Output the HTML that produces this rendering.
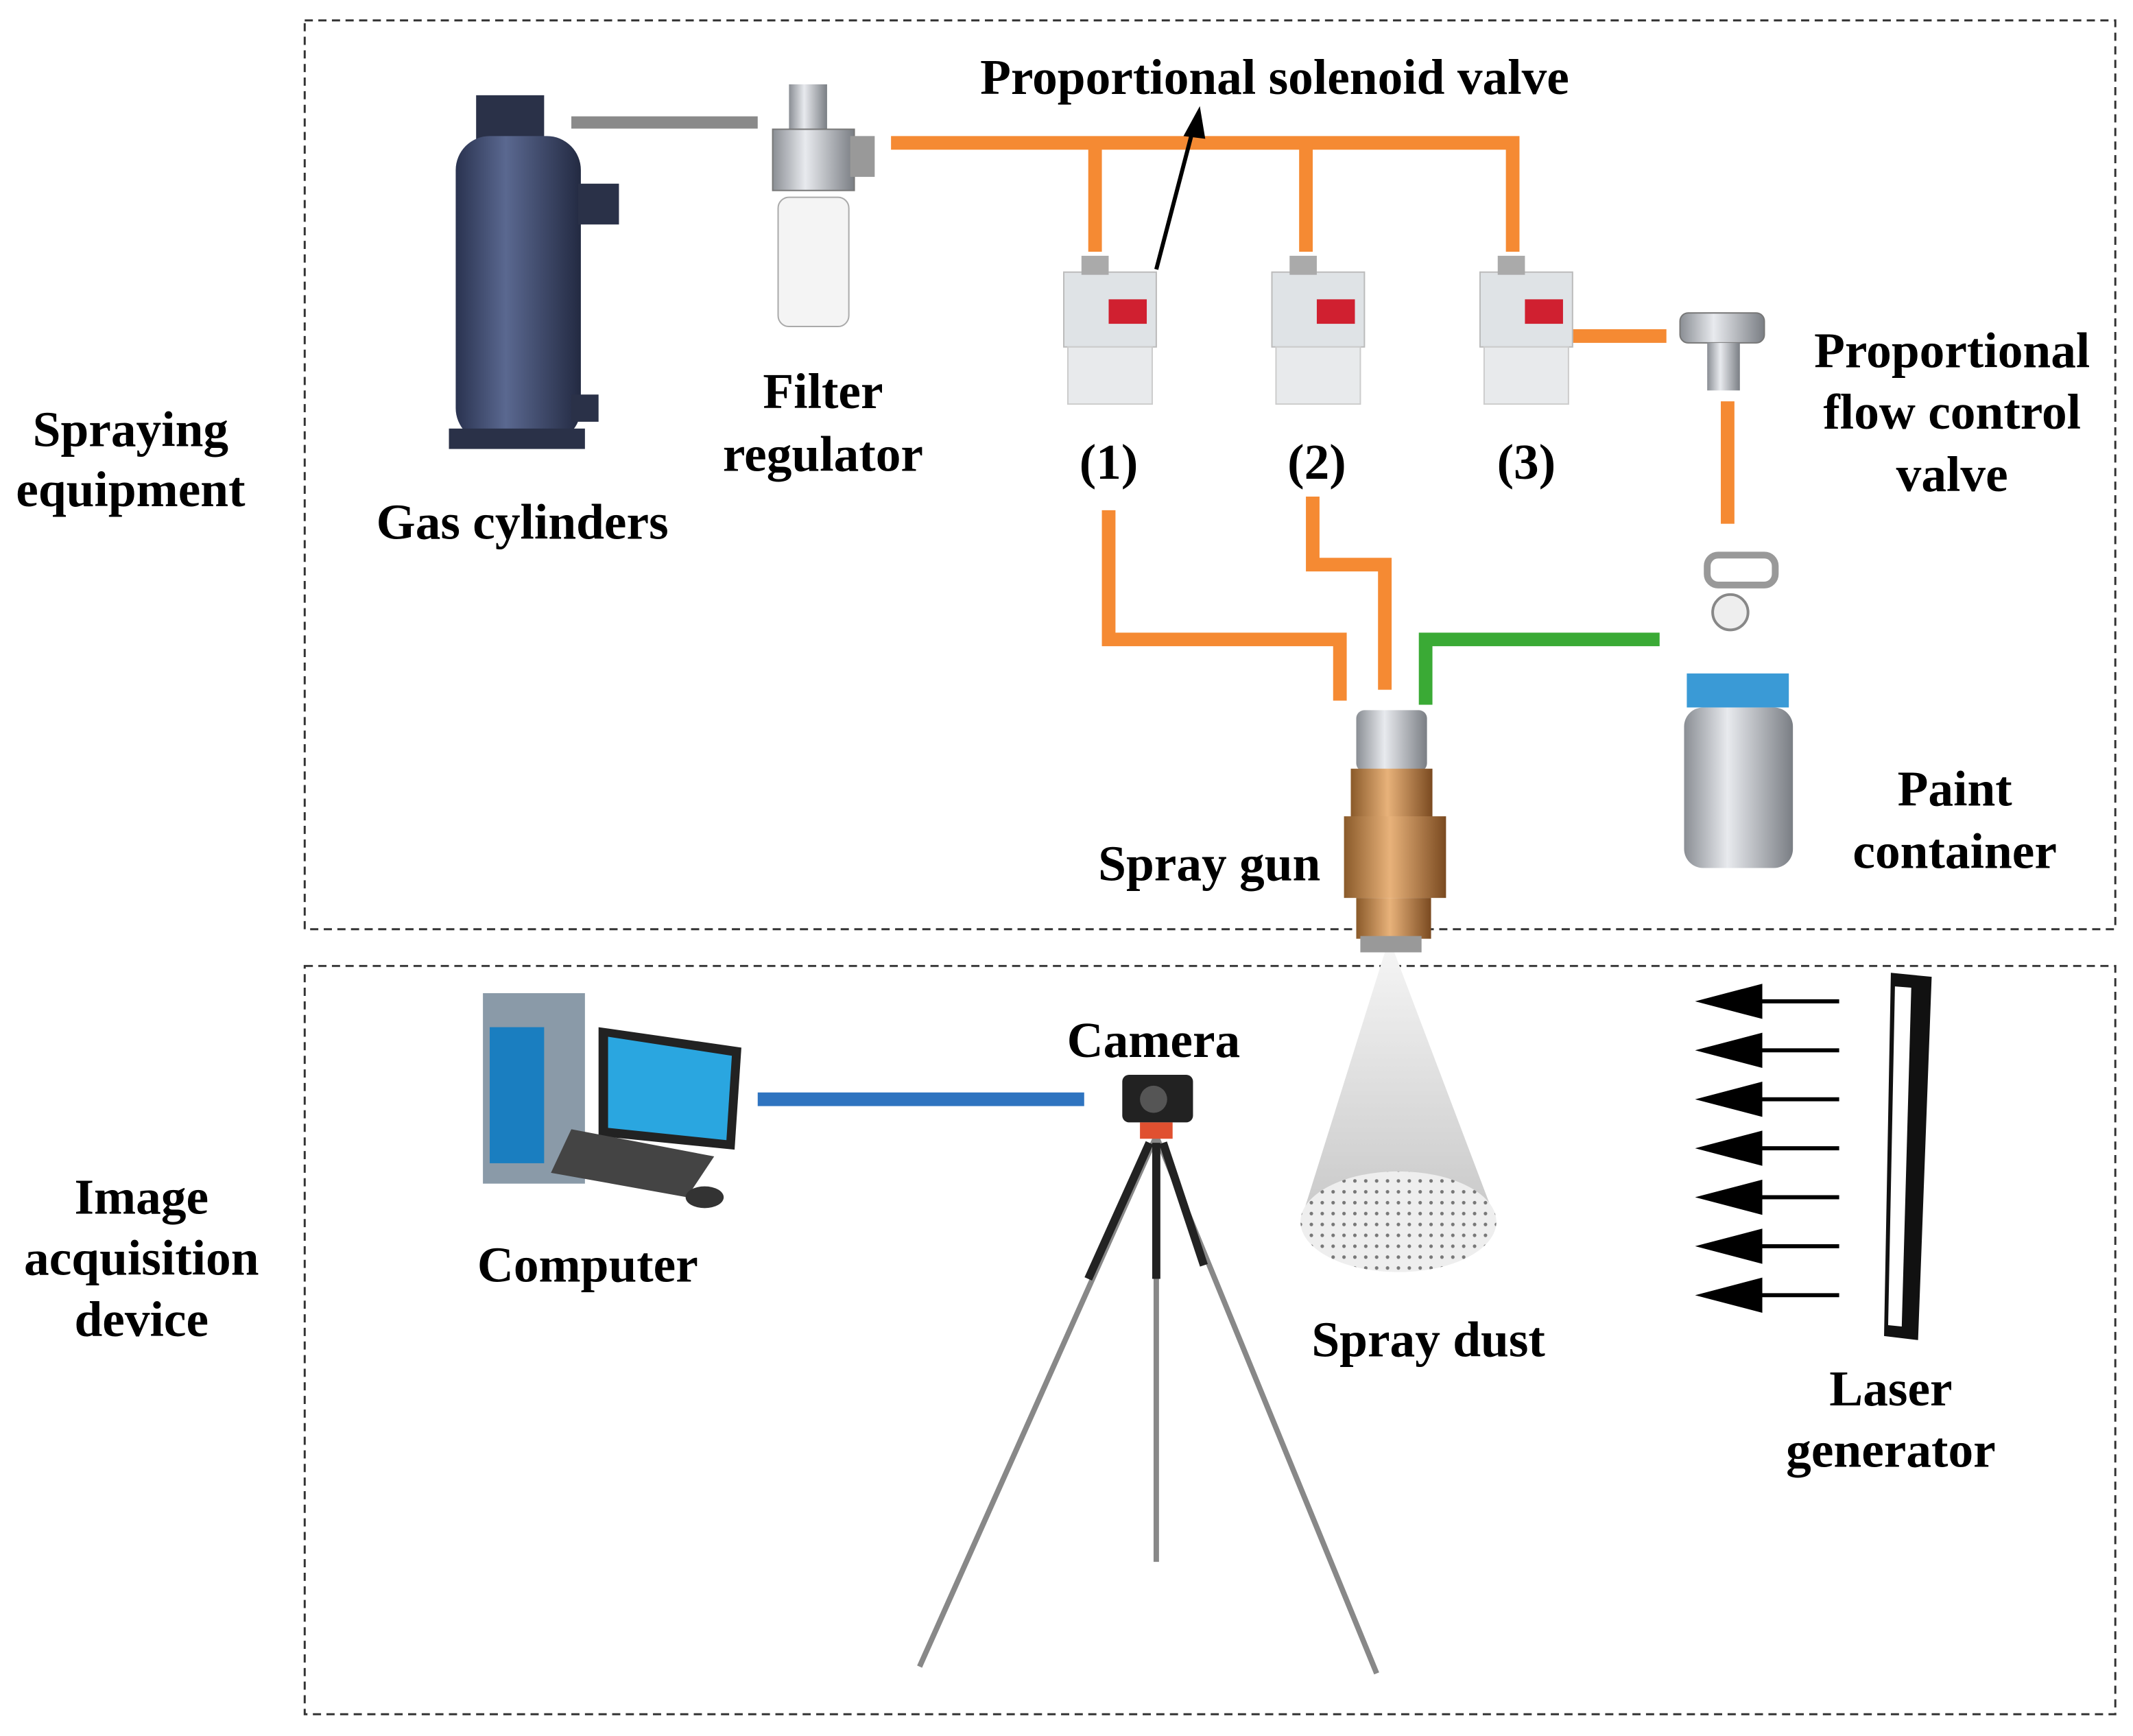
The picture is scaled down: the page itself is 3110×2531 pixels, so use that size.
<!DOCTYPE html>
<html><head><meta charset="utf-8"><style>
html,body{margin:0;padding:0;background:#fff;}
svg{display:block;}
text{font-family:"Liberation Serif",serif;font-weight:bold;font-size:37px;fill:#000;text-anchor:middle;}
</style></head><body>
<svg width="3110" height="2531" viewBox="0 0 1568 1276" preserveAspectRatio="none" xmlns="http://www.w3.org/2000/svg">
<defs>
<linearGradient id="cyl" x1="0" x2="1"><stop offset="0" stop-color="#2a3350"/><stop offset="0.4" stop-color="#5a6890"/><stop offset="1" stop-color="#232a42"/></linearGradient>
<linearGradient id="gold" x1="0" x2="1"><stop offset="0" stop-color="#8a5a2a"/><stop offset="0.45" stop-color="#e8b27a"/><stop offset="1" stop-color="#7a4a20"/></linearGradient>
<linearGradient id="silver" x1="0" x2="1"><stop offset="0" stop-color="#8a8e94"/><stop offset="0.4" stop-color="#e8eaee"/><stop offset="1" stop-color="#7a7e84"/></linearGradient>
<linearGradient id="cone" x1="0" y1="0" x2="0" y2="1"><stop offset="0" stop-color="#f4f4f4"/><stop offset="1" stop-color="#c8c8c8"/></linearGradient>
<pattern id="dots" width="8" height="8" patternUnits="userSpaceOnUse"><rect width="8" height="8" fill="#eee"/><circle cx="4" cy="4" r="1.3" fill="#777"/></pattern>
</defs>
<rect x="224" y="15" width="1331" height="668" fill="none" stroke="#333" stroke-width="1.5" stroke-dasharray="6,4"/>
<rect x="224" y="710" width="1331" height="550" fill="none" stroke="#333" stroke-width="1.5" stroke-dasharray="6,4"/>

<g fill="none" stroke-linejoin="miter" stroke-linecap="butt">
<line x1="420" y1="90" x2="557" y2="90" stroke="#8a8a8a" stroke-width="9"/>
<g stroke="#f58a33" stroke-width="10">
<polyline points="655,105 1112,105 1112,185"/>
<line x1="805" y1="105" x2="805" y2="185"/>
<line x1="960" y1="105" x2="960" y2="185"/>
<line x1="1155" y1="247" x2="1225" y2="247"/>
<line x1="1270" y1="295" x2="1270" y2="385"/>
<polyline points="815,375 815,470 985,470 985,515"/>
<polyline points="965,365 965,415 1018,415 1018,507"/>
</g>
<polyline points="1048,518 1048,470 1220,470" stroke="#3aaa35" stroke-width="10"/>
<line x1="557" y1="808" x2="797" y2="808" stroke="#2f74c0" stroke-width="10"/>
</g>

<rect x="350" y="70" width="50" height="35" fill="#2a3148"/>
<rect x="335" y="100" width="92" height="225" rx="25" fill="url(#cyl)"/>
<rect x="330" y="315" width="100" height="15" fill="#2a3148"/>
<rect x="425" y="135" width="30" height="30" fill="#2a3148"/>
<rect x="420" y="290" width="20" height="20" fill="#2a3148"/>

<rect x="580" y="62" width="28" height="40" fill="url(#silver)"/>
<rect x="568" y="95" width="60" height="45" fill="url(#silver)" stroke="#777"/>
<rect x="625" y="100" width="18" height="30" fill="#999"/>
<rect x="572" y="145" width="52" height="95" rx="8" fill="#f4f4f4" stroke="#aaa"/>

<g id="v">
<rect x="782" y="200" width="68" height="55" fill="#dfe3e6" stroke="#bbb"/>
<rect x="815" y="220" width="28" height="18" fill="#d02030"/>
<rect x="785" y="255" width="62" height="42" fill="#e8eaec" stroke="#ccc"/>
<rect x="795" y="188" width="20" height="14" fill="#aaa"/>
</g>
<use href="#v" x="153"/>
<use href="#v" x="306"/>

<rect x="1235" y="230" width="62" height="22" rx="6" fill="url(#silver)" stroke="#777"/>
<rect x="1255" y="252" width="24" height="35" fill="url(#silver)"/>

<rect x="1255" y="408" width="50" height="22" rx="8" fill="none" stroke="#999" stroke-width="5"/>
<circle cx="1272" cy="450" r="13" fill="#eee" stroke="#888" stroke-width="2"/>
<rect x="1240" y="495" width="75" height="25" fill="#3a9ad6"/>
<rect x="1238" y="520" width="80" height="118" rx="14" fill="url(#silver)"/>

<rect x="997" y="522" width="52" height="45" rx="6" fill="url(#silver)"/>
<rect x="993" y="565" width="60" height="55" fill="url(#gold)"/>
<rect x="988" y="600" width="75" height="60" fill="url(#gold)"/>
<rect x="997" y="660" width="55" height="30" fill="url(#gold)"/>
<rect x="1000" y="688" width="45" height="12" fill="#999"/>

<polygon points="1018,700 1025,700 1100,898 956,898" fill="url(#cone)"/>
<ellipse cx="1028" cy="898" rx="72" ry="37" fill="url(#dots)"/>

<line x1="850" y1="198" x2="877" y2="95" stroke="#000" stroke-width="3"/>
<polygon points="882,78 870,100 886,102" fill="#000"/>

<rect x="355" y="730" width="75" height="140" fill="#8a9aa8"/>
<rect x="360" y="755" width="40" height="100" fill="#1a7ec0"/>
<polygon points="440,755 545,770 540,845 440,835" fill="#222"/>
<polygon points="447,762 538,776 534,838 447,829" fill="#2aa6e0"/>
<polygon points="420,830 525,850 505,880 405,862" fill="#444"/>
<ellipse cx="518" cy="880" rx="14" ry="8" fill="#333"/>

<rect x="825" y="790" width="52" height="35" rx="5" fill="#222"/>
<circle cx="848" cy="808" r="10" fill="#555"/>
<g stroke="#888" stroke-width="4">
<line x1="850" y1="835" x2="676" y2="1225"/>
<line x1="850" y1="835" x2="850" y2="1148"/>
<line x1="850" y1="835" x2="1012" y2="1230"/>
</g>
<g stroke="#222" stroke-width="6">
<line x1="845" y1="840" x2="800" y2="940"/>
<line x1="850" y1="840" x2="850" y2="940"/>
<line x1="855" y1="840" x2="885" y2="930"/>
</g>
<rect x="838" y="825" width="24" height="12" fill="#e05030"/>

<g stroke="#000" stroke-width="3" fill="#000">
<line x1="1352" y1="736" x2="1280" y2="736"/><polygon points="1252,736 1294,725 1294,747"/>
<line x1="1352" y1="772" x2="1280" y2="772"/><polygon points="1252,772 1294,761 1294,783"/>
<line x1="1352" y1="808" x2="1280" y2="808"/><polygon points="1252,808 1294,797 1294,819"/>
<line x1="1352" y1="844" x2="1280" y2="844"/><polygon points="1252,844 1294,833 1294,855"/>
<line x1="1352" y1="880" x2="1280" y2="880"/><polygon points="1252,880 1294,869 1294,891"/>
<line x1="1352" y1="916" x2="1280" y2="916"/><polygon points="1252,916 1294,905 1294,927"/>
<line x1="1352" y1="952" x2="1280" y2="952"/><polygon points="1252,952 1294,941 1294,963"/>
</g>

<polygon points="1390,715 1420,718 1410,985 1385,982" fill="#111"/>
<polygon points="1393,725 1405,726 1398,975 1388,974" fill="#fff"/>

<text x="937" y="69">Proportional solenoid valve</text>
<text x="605" y="300">Filter</text>
<text x="605" y="346">regulator</text>
<text x="384" y="396">Gas cylinders</text>
<text x="815" y="352">(1)</text>
<text x="968" y="352">(2)</text>
<text x="1122" y="352">(3)</text>
<text x="1435" y="270">Proportional</text>
<text x="1435" y="315">flow control</text>
<text x="1435" y="361">valve</text>
<text x="1437" y="592">Paint</text>
<text x="1437" y="638">container</text>
<text x="889" y="647">Spray gun</text>
<text x="96" y="328">Spraying</text>
<text x="96" y="372">equipment</text>
<text x="104" y="892">Image</text>
<text x="104" y="937">acquisition</text>
<text x="104" y="982">device</text>
<text x="432" y="942">Computer</text>
<text x="848" y="777">Camera</text>
<text x="1050" y="997">Spray dust</text>
<text x="1390" y="1033">Laser</text>
<text x="1390" y="1078">generator</text>
</svg>
</body></html>
